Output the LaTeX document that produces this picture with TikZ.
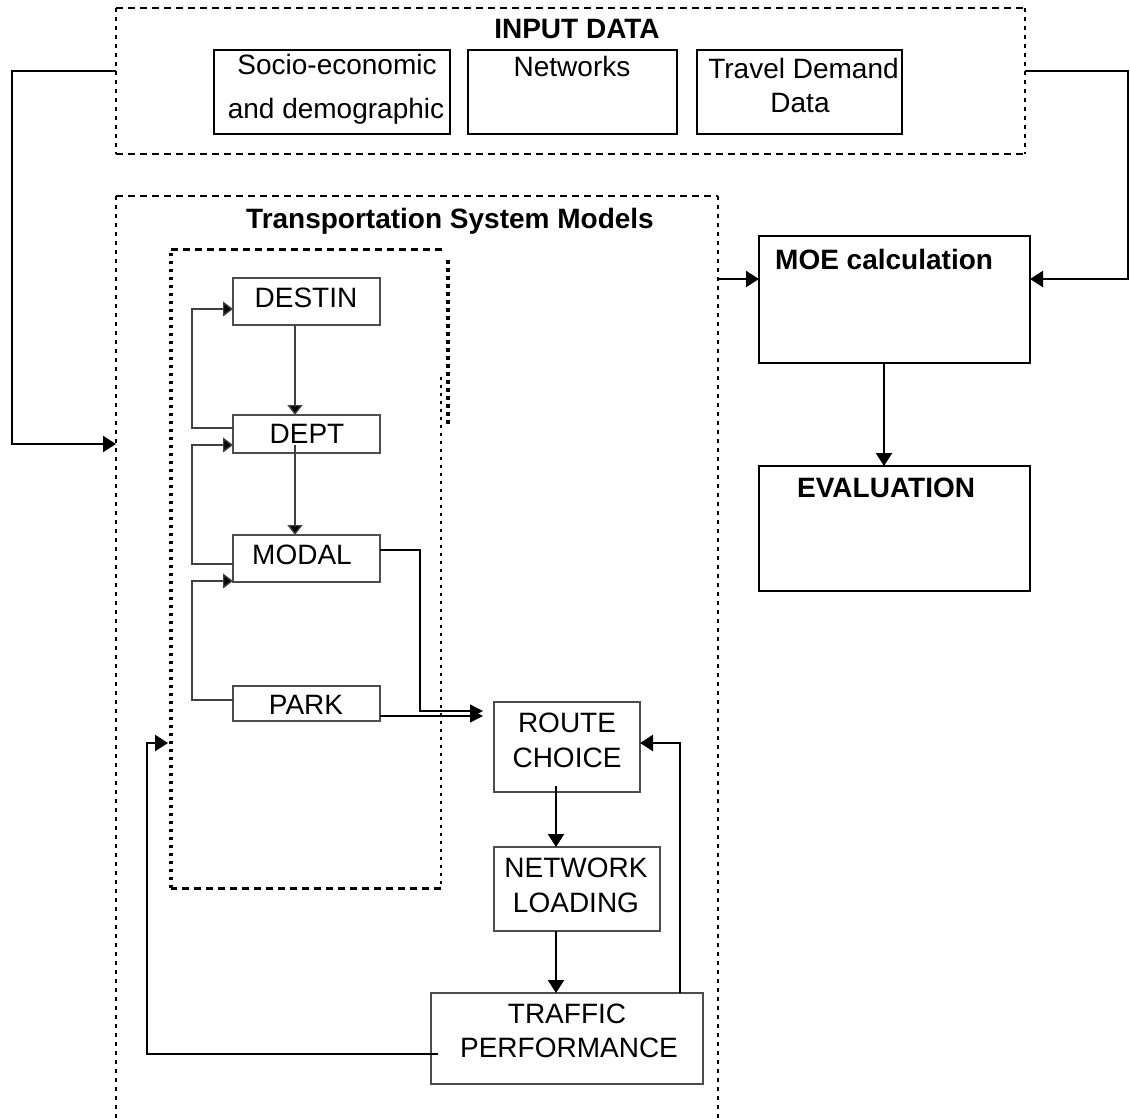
\documentclass[tikz,border=0pt]{standalone}
\usepackage{fontspec}
\setmainfont{Liberation Sans}
\usetikzlibrary{arrows.meta,calc}
\begin{document}
\begin{tikzpicture}[x=1pt,y=-1pt,
  font=\fontsize{28}{34}\selectfont,
  frameh/.style={line width=2.8pt, dash pattern=on 7pt off 5pt},
  framev/.style={line width=2.8pt, dash pattern=on 4pt off 5pt},
  innerh/.style={line width=3pt, dash pattern=on 7pt off 5pt},
  innerv/.style={line width=3.2pt, dash pattern=on 3.5pt off 4.5pt},
  innerthin/.style={line width=2.2pt, dash pattern=on 3pt off 5pt},
  region/.style={draw=none, inner sep=0pt, outer sep=0pt},
  bigbox/.style={draw, line width=2.2pt, inner sep=0pt, outer sep=0pt},
  smallbox/.style={draw=black!70, line width=1.5pt, inner sep=0pt, outer sep=0pt},
  flow/.style={line width=2.3pt, -{Triangle[length=13pt,width=16pt]}},
  thinflow/.style={line width=1.4pt, draw=black!75, -{Triangle[length=10pt,width=15pt,fill=black]}},
  joinflow/.style={line width=1.4pt, -{Triangle[length=13pt,width=13pt]}},
  lbl/.style={anchor=base, inner sep=0pt},
  blbl/.style={anchor=base, inner sep=0pt, font=\fontsize{28}{34}\selectfont\bfseries},
]
\useasboundingbox (0,0) rectangle (1130,1119);

% ---------- regions (frames) ----------
\node[region, minimum width=909pt, minimum height=146pt] (inframe) at (570.5,81) {};
\node[region, minimum width=602pt, minimum height=923pt] (tsm) at (417,657.5) {};
\node[region, minimum width=270pt, minimum height=639pt] (inner) at (306,568.5) {};

% input frame
\draw[frameh] (inframe.north west) -- (inframe.north east);
\draw[frameh] (inframe.south west) -- (inframe.south east);
\draw[framev] (inframe.north west) -- (inframe.south west);
\draw[framev] (inframe.north east) -- (inframe.south east);

% transportation system models frame (open at the bottom)
\draw[frameh] (tsm.north west) -- (tsm.north east);
\draw[framev] (tsm.north west) -- (116,1122);
\draw[framev] (tsm.north east) -- (718,1122);

% inner dotted frame (broken right side)
\draw[innerh] (inner.north west) -- (442,249) -- (442,253);
\draw[innerv] (448,260) -- (448,425);
\draw[innerthin] (441,377) -- (inner.south east);
\draw[innerh] (inner.south east) -- (inner.south west);
\draw[innerv] (inner.south west) -- (inner.north west);

% ---------- titles ----------
\node[blbl] (tinput) at (577,38) {INPUT DATA};
\node[blbl] (ttsm) at (450,228) {Transportation System Models};

% ---------- input boxes ----------
\node[bigbox, minimum width=236pt, minimum height=84pt] (socio) at (332,92) {};
\node[bigbox, minimum width=209pt, minimum height=84pt] (netw) at (572.5,92) {};
\node[bigbox, minimum width=205pt, minimum height=84pt] (travel) at (799.5,92) {};
\node[lbl] (tsocio1) at (337,74) {Socio-economic};
\node[lbl] (tsocio2) at (336,118) {and demographic};
\node[lbl] (tnetw) at (572,76) {Networks};
\node[lbl] (ttravel1) at (803.5,78) {Travel Demand};
\node[lbl] (ttravel2) at (800,112) {Data};

% ---------- MOE and evaluation ----------
\node[bigbox, minimum width=271pt, minimum height=127pt] (moe) at (894.5,299.5) {};
\node[bigbox, minimum width=271pt, minimum height=125pt] (evalb) at (894.5,528.5) {};
\node[blbl, anchor=base west] (tmoe) at (775,269) {MOE calculation};
\node[blbl, anchor=base west] (teval) at (797,497) {EVALUATION};

% ---------- demand model boxes ----------
\node[smallbox, minimum width=147pt, minimum height=47pt] (destin) at (306.5,301.5) {};
\node[smallbox, minimum width=147pt, minimum height=38pt] (dept) at (306.5,434) {};
\node[smallbox, minimum width=147pt, minimum height=47pt] (modal) at (306.5,558.5) {};
\node[smallbox, minimum width=147pt, minimum height=35pt] (park) at (306.5,703.5) {};
\node[lbl] (tdestin) at (306,307) {DESTIN};
\node[lbl] (tdept) at (307,443) {DEPT};
\node[lbl] (tmodal) at (302,564) {MODAL};
\node[lbl] (tpark) at (306,714) {PARK};

% ---------- supply boxes ----------
\node[smallbox, minimum width=146pt, minimum height=90pt] (route) at (567,747) {};
\node[smallbox, minimum width=166pt, minimum height=84pt] (network) at (577,889) {};
\node[smallbox, minimum width=272pt, minimum height=91pt] (traffic) at (567,1038.5) {};
\node[lbl] (troute1) at (567,732) {ROUTE};
\node[lbl] (troute2) at (567,767) {CHOICE};
\node[lbl] (tnet1) at (576,877) {NETWORK};
\node[lbl] (tnet2) at (576,912) {LOADING};
\node[lbl] (ttraf1) at (567,1023) {TRAFFIC};
\node[lbl] (ttraf2) at (569,1057) {PERFORMANCE};

% ---------- connectors ----------
% input data to transportation models and to MOE
\draw[flow] (inframe.west |- 0,71) -- (12,71) -- (12,444) -- (tsm.west |- 0,444);
\draw[flow] (inframe.east |- 0,71) -- (1128,71) -- (1128,279) -- (moe.east |- 0,279);
\draw[flow] (tsm.east |- 0,279) -- (moe.west |- 0,279);
\draw[flow] (moe.south -| 884,0) -- (evalb.north -| 884,0);

% demand chain
\draw[thinflow] (destin.south -| 295,0) -- (dept.north -| 295,0);
\draw[thinflow] ($(dept.south -| 295,0)+(0,-8)$) -- (modal.north -| 295,0);
\draw[thinflow] (dept.west |- 0,428) -- (192,428) -- (192,309) -- (destin.west |- 0,309);
\draw[thinflow] (modal.west |- 0,564) -- (192,564) -- (192,445) -- (dept.west |- 0,445);
\draw[thinflow] (park.west |- 0,700) -- (192,700) -- (192,581) -- (modal.west |- 0,581);

% modal and park into route choice
\draw[joinflow] (modal.east |- 0,550) -- (420,550) -- (420,711) -- ($(route.west |- 0,711)+(-11,0)$);
\draw[joinflow] (park.east |- 0,716) -- ($(route.west |- 0,716)+(-11,0)$);

% supply chain
\draw[flow] ($(route.south -| 556,0)+(0,-6)$) -- (network.north -| 556,0);
\draw[flow] (network.south -| 556,0) -- (traffic.north -| 556,0);
\draw[flow] (traffic.north -| 680,0) -- (680,743) -- (route.east |- 0,743);
\draw[flow] ($(traffic.west |- 0,1054)+(7,0)$) -- (147,1054) -- (147,743) -- ($(inner.west |- 0,743)+(-3,0)$);

\end{tikzpicture}
\end{document}
